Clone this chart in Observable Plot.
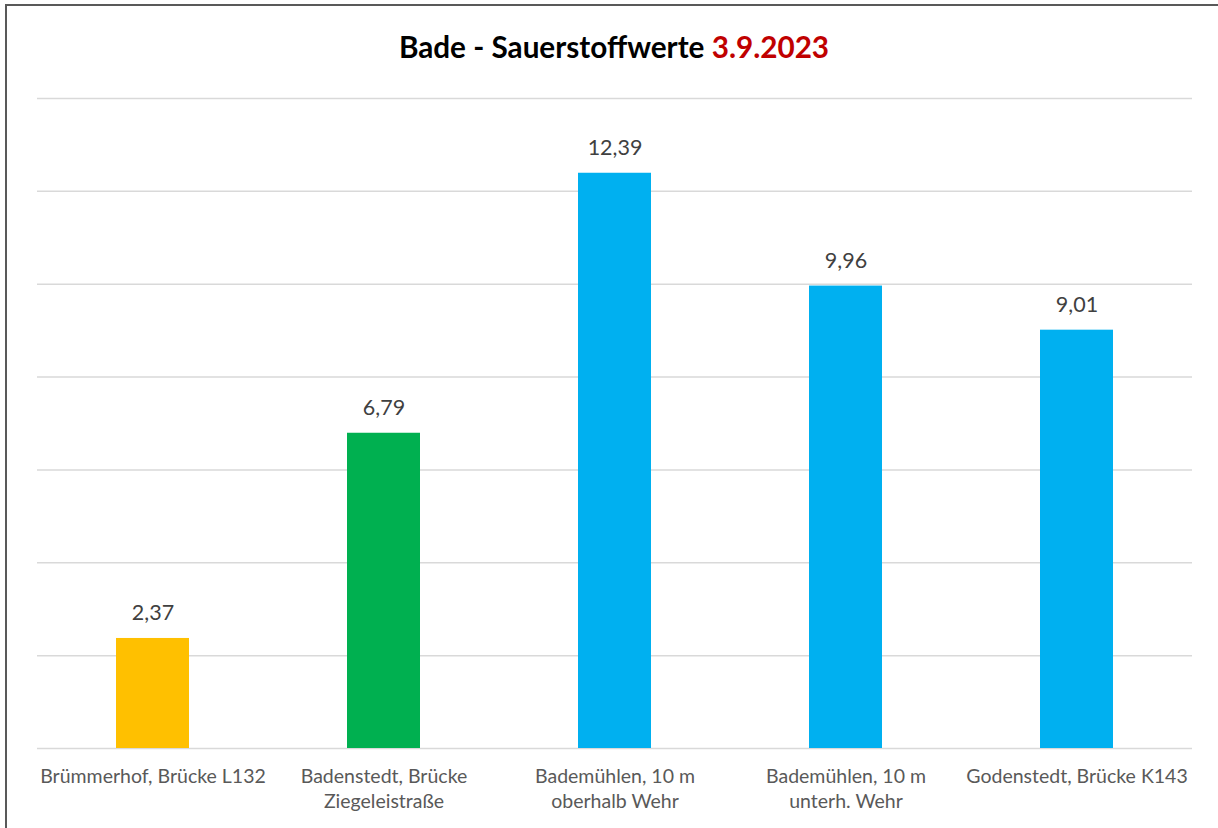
<!DOCTYPE html>
<html>
<head>
<meta charset="utf-8">
<script src="https://cdn.jsdelivr.net/npm/d3@7"></script>
<script src="https://cdn.jsdelivr.net/npm/@observablehq/plot@0.6"></script>
<style>
  html, body { margin: 0; padding: 0; background: #fff; }
  #page { position: relative; width: 1218px; height: 828px; overflow: hidden; font-family: Lato, "Open Sans", sans-serif; }
  #frame { position: absolute; left: 5px; top: 4px; width: 1400px; height: 1000px; border-left: 2px solid #595959; border-top: 2px solid #595959; }
  #title { position: absolute; left: 5px; top: 31px; width: 1218px; text-align: center; font-size: 29.7px; line-height: 32px; font-weight: bold; color: #000; }
  #title .date { color: #C00000; }
  #chart { position: absolute; left: 0; top: 80px; }
</style>
</head>
<body>
<div id="page">
  <div id="frame"></div>
  <div id="title">Bade - Sauerstoffwerte <span class="date">3.9.2023</span></div>
  <div id="chart"></div>
</div>
<script>
const sites = [
  "Brümmerhof, Brücke L132",
  "Badenstedt, Brücke\nZiegeleistraße",
  "Bademühlen, 10 m\noberhalb Wehr",
  "Bademühlen, 10 m\nunterh. Wehr",
  "Godenstedt, Brücke K143"
];
const values = [2.37, 6.79, 12.39, 9.96, 9.01];
const barColors = ["#FFC000", "#00B050", "#00B0F0", "#00B0F0", "#00B0F0"];
const yTicks = [0, 2, 4, 6, 8, 10, 12, 14];

const data = sites.map((s, i) => ({site: s, value: values[i], color: barColors[i]}));
const fmt = v => v.toFixed(2).replace(".", ",");

const chart = Plot.plot({
  width: 1218,
  height: 748,
  marginTop: 18,
  marginBottom: 80,
  marginLeft: 37,
  marginRight: 26,
  style: {fontFamily: "Lato, 'Open Sans', sans-serif", background: "transparent"},
  x: {domain: sites, paddingInner: 0.684, paddingOuter: 0.342, label: null},
  y: {domain: [0, 14], axis: null},
  color: {type: "identity"},
  marks: [
    Plot.ruleY(yTicks, {stroke: "#d9d9d9", strokeWidth: 1.5}),
    Plot.barY(data, {x: "site", y: "value", fill: "color"}),
    Plot.text(data, {x: "site", y: "value", text: d => fmt(d.value), dy: -25, lineAnchor: "middle", fontSize: 21.5, fill: "#404040"}),
    Plot.axisX({tickSize: 0, tickPadding: 17, fontSize: 19.5, lineHeight: 1.26, fill: "#595959", label: null})
  ]
});
document.getElementById("chart").appendChild(chart);
</script>
</body>
</html>
